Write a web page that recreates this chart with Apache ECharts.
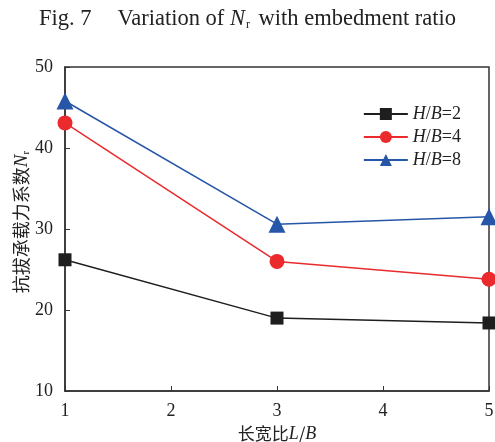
<!DOCTYPE html>
<html>
<head>
<meta charset="utf-8">
<script src="https://cdn.jsdelivr.net/npm/echarts@6/dist/echarts.min.js"></script>
<style>
  html, body { margin: 0; padding: 0; background: #fff; }
  #chart { width: 495px; height: 442px; }
</style>
</head>
<body>
<div id="chart"></div>
<script>
// 长宽比 L/B
var ratios = [1, 3, 5];
// 抗拔承载力系数 Nr
var hb2 = [26.2, 19.0, 18.4];
var hb4 = [43.1, 26.0, 23.8];
var hb8 = [45.8, 30.6, 31.5];
var yTicks = [10, 20, 30, 40, 50];

var serif = '"Liberation Serif", "DejaVu Serif", serif';
var cjk = '"Noto Sans CJK SC", sans-serif';

function pairs(arr) {
    return ratios.map(function(x, i) { return [x, arr[i]]; });
}

var myChart = echarts.init(document.getElementById('chart'));
var option = {
    animation: false,
    backgroundColor: '#fff',
    title: {
        left: 'center',
        top: 2,
        text: '{g|Fig. 7}{t|Variation of }{i|N}{s|r}{t| with embedment ratio}',
        textStyle: {
            fontFamily: serif,
            fontSize: 22.5,
            fontWeight: 'normal',
            color: '#222',
            rich: {
                g: { fontFamily: serif, fontSize: 22.5, color: '#222', padding: [0, 26, 0, 0] },
                t: { fontFamily: serif, fontSize: 22.5, color: '#222' },
                i: { fontFamily: serif, fontSize: 22.5, fontStyle: 'italic', color: '#222' },
                s: { fontFamily: serif, fontSize: 12, color: '#222', padding: [12, 3, 0, 1] }
            }
        }
    },
    grid: {
        left: 65, right: 6, top: 67, bottom: 51,
        outerBoundsMode: 'none', containLabel: false,
        show: true, borderColor: '#333', borderWidth: 1.5
    },
    legend: {
        right: 29,
        top: 100,
        orient: 'vertical',
        itemWidth: 44,
        itemHeight: 15,
        itemGap: 5,
        textStyle: {
            fontFamily: serif, fontSize: 18, color: '#222',
            rich: { i: { fontFamily: serif, fontSize: 18, fontStyle: 'italic', color: '#222' } }
        },
        formatter: function(name) {
            return '{i|H}/{i|B}' + name.slice(3);
        },
        data: ['H/B=2', 'H/B=4', 'H/B=8']
    },
    xAxis: {
        type: 'value',
        min: 1, max: 5, interval: 1,
        name: '长宽比{i|L}/{i|B}',
        nameLocation: 'middle',
        nameGap: 34,
        nameMoveOverlap: false,
        nameTextStyle: {
            fontFamily: cjk, fontSize: 17, color: '#222',
            rich: { i: { fontFamily: serif, fontSize: 18, fontStyle: 'italic', color: '#222' } }
        },
        axisLine: { lineStyle: { color: '#333', width: 1.5 } },
        axisTick: { inside: true, length: 5, lineStyle: { color: '#333' } },
        axisLabel: { fontFamily: serif, fontSize: 18, color: '#222', margin: 11 },
        splitLine: { show: false }
    },
    yAxis: {
        type: 'value',
        min: 10, max: 50, interval: 10,
        name: '抗拔承载力系数{i|N}{s|r}',
        nameLocation: 'middle',
        nameRotate: 90,
        nameGap: 33,
        nameMoveOverlap: false,
        nameTextStyle: {
            fontFamily: cjk, fontSize: 18, color: '#222', padding: [0, 0, 0, 14],
            rich: {
                i: { fontFamily: serif, fontSize: 19, fontStyle: 'italic', color: '#222' },
                s: { fontFamily: serif, fontSize: 11, color: '#222', padding: [10, 0, 0, 0] }
            }
        },
        axisLine: { lineStyle: { color: '#333', width: 1.5 } },
        axisTick: { inside: true, length: 5, lineStyle: { color: '#333' } },
        axisLabel: {
            fontFamily: serif, fontSize: 18, color: '#222', margin: 12,
            formatter: function(v) { return yTicks.indexOf(v) >= 0 ? String(v) : ''; }
        },
        splitLine: { show: false }
    },
    series: [{
        name: 'H/B=2',
        type: 'line',
        data: pairs(hb2),
        symbol: 'rect',
        symbolSize: 13,
        color: '#1e1e1e',
        lineStyle: { width: 1.5, color: '#1e1e1e' }
    }, {
        name: 'H/B=4',
        type: 'line',
        data: pairs(hb4),
        symbol: 'circle',
        symbolSize: 15,
        color: '#ea2a2c',
        lineStyle: { width: 1.5, color: '#ea2a2c' }
    }, {
        name: 'H/B=8',
        type: 'line',
        data: pairs(hb8),
        symbol: 'triangle',
        symbolSize: 17,
        color: '#2656a8',
        lineStyle: { width: 1.5, color: '#2656a8' }
    }]
};
myChart.setOption(option);
</script>
</body>
</html>
